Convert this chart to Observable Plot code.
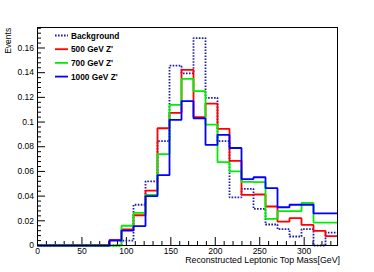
<!DOCTYPE html>
<html><head><meta charset="utf-8">
<script src="https://cdn.jsdelivr.net/npm/d3@7"></script>
<script src="https://cdn.jsdelivr.net/npm/@observablehq/plot@0.6"></script>
<style>body{margin:0;background:#fff;}</style>
</head><body><div id="chart"></div>
<script>
// Bin edges (25 bins of 13.5 GeV)
const binEdges = [0,13.5,27,40.5,54,67.5,81,94.5,108,121.5,135,148.5,162,175.5,189,202.5,216,229.5,243,256.5,270,283.5,297,310.5,324,337.5];
// Normalised event fractions per bin
const background = [0,0,0,0,0,0,0,0.004,0.033,0.052,0.0845,0.1457,0.1395,0.168,0.1196,0.0845,0.039,0.0459,0.0297,0.017,0.0132,0.0073,0.0132,0,0.0105];
const z500  = [0,0,0,0,0,0,0.0046,0.013,0.0245,0.0445,0.095,0.1075,0.1422,0.104,0.115,0.0945,0.0686,0.041,0.0413,0.0316,0.0194,0.0221,0.0167,0.0119,0.0076];
const z700  = [0,0,0,0,0,0,0,0.016,0.0265,0.041,0.074,0.114,0.135,0.125,0.098,0.0675,0.060,0.0515,0.0513,0.0216,0.0278,0.0278,0.0345,0.0186,0.0186];
const z1000 = [0,0,0,0,0,0,0.004,0.012,0.0157,0.040,0.057,0.1018,0.117,0.103,0.0815,0.0896,0.079,0.0537,0.0553,0.0464,0.031,0.033,0.033,0.026,0.026];

const legendLabels = ["Background","500 GeV Z'","700 GeV Z'","1000 GeV Z'"];
const xMajorTicks = [0,50,100,150,200,250,300];
const yMajorTicks = [0,0.02,0.04,0.06,0.08,0.1,0.12,0.14,0.16];
const xLabel = "Reconstructed Leptonic Top Mass[GeV]";
const yLabel = "Events";

const xMinorTicks = d3.range(0, 331, 10).filter(v => !xMajorTicks.includes(v));
const yMinorTicks = d3.range(0, 45).map(i => +(i*0.004).toFixed(3)).filter(v => v <= 0.1766 && !yMajorTicks.some(t => Math.abs(t-v) < 1e-9));

const W = 374, H = 272;
const mL = 37, mR = 37, mT = 27, mB = 27;
const xMax = 337.5, yMax = 0.1766;
const xPerPx = xMax / (W - mL - mR);
const yPerPx = yMax / (H - mT - mB);

function steps(vals, name) {
  return binEdges.map((e, j) => ({x: e, y: vals[Math.min(j, vals.length - 1)], s: name}));
}

const styles = [
  {vals: background, color: "#1c1ca6", dash: "1.6,1.4", width: 1.8},
  {vals: z500, color: "#ff0000", dash: null, width: 1.8},
  {vals: z700, color: "#00ee00", dash: null, width: 1.8},
  {vals: z1000, color: "#0000ff", dash: null, width: 1.8}
];

const marks = [
  Plot.ruleX(xMajorTicks, {x: d => d, y1: 0, y2: 8 * yPerPx, stroke: "#000"}),
  Plot.ruleX(xMinorTicks, {x: d => d, y1: 0, y2: 4 * yPerPx, stroke: "#000"}),
  Plot.ruleY(yMajorTicks, {y: d => d, x1: 0, x2: 8 * xPerPx, stroke: "#000"}),
  Plot.ruleY(yMinorTicks, {y: d => d, x1: 0, x2: 4 * xPerPx, stroke: "#000"}),
  ...styles.map((st, i) => Plot.line(steps(st.vals, legendLabels[i]), {
    x: "x", y: "y", curve: "step-after", stroke: st.color, strokeWidth: st.width,
    strokeDasharray: st.dash, strokeLinecap: "butt", strokeLinejoin: "miter"
  })),
  Plot.frame({stroke: "#000", strokeWidth: 1}),
  Plot.axisX(xMajorTicks, {tickSize: 0, tickPadding: 2.5, label: null, fontSize: 8.5}),
  Plot.axisY(yMajorTicks, {tickSize: 0, tickPadding: 3.5, label: null, fontSize: 8.5, tickFormat: d => String(d)}),
  Plot.text([xLabel], {frameAnchor: "bottom-right", textAnchor: "end", lineAnchor: "bottom", dx: 2.5, dy: 17, fontSize: 8.8, fill: "#000"}),
  Plot.text([yLabel], {frameAnchor: "top-left", textAnchor: "end", lineAnchor: "bottom", rotate: -90, dx: -26.6, dy: 0.3, fontSize: 8.5, fill: "#000"})
];

const plot = Plot.plot({
  width: W, height: H,
  marginLeft: mL, marginRight: mR, marginTop: mT, marginBottom: mB,
  x: {domain: [0, xMax]},
  y: {domain: [0, yMax]},
  style: {fontFamily: "'Liberation Sans', Arial, sans-serif", fontSize: "8.5px", background: "#fff", color: "#000"},
  marks
});

// Legend (TLegend-style box inside the frame, no border)
const svg = d3.select(plot);
const lg = svg.append("g")
  .attr("font-family", "'Liberation Sans', Arial, sans-serif")
  .attr("font-weight", "bold").attr("font-size", 8.3)
  .attr("text-anchor", "start");
legendLabels.forEach((lab, i) => {
  const y = 35.5 + 13.7 * i;
  const st = styles[i];
  lg.append("line").attr("x1", 55).attr("x2", 68).attr("y1", y).attr("y2", y)
    .attr("stroke", st.color).attr("stroke-width", st.width).attr("stroke-dasharray", st.dash);
  lg.append("text").attr("x", 71).attr("y", y + 3).attr("fill", "#000").attr("text-anchor", "start").text(lab);
});

document.getElementById("chart").appendChild(plot);
</script>
</body></html>
